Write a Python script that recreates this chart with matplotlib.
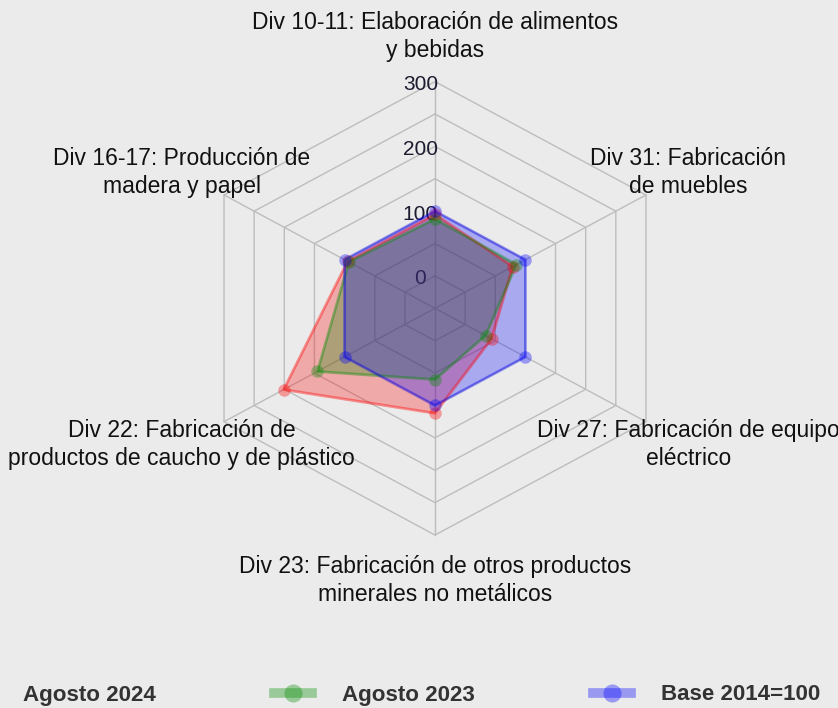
import numpy as np
import matplotlib.pyplot as plt
from matplotlib.lines import Line2D

plt.rcParams['font.family'] = ['Liberation Sans', 'DejaVu Sans']

# radar data, counter-clockwise from the top axis
categories = [
    "Div 10-11: Elaboración de alimentos\ny bebidas",
    "Div 16-17: Producción de\nmadera y papel",
    "Div 22: Fabricación de\nproductos de caucho y de plástico",
    "Div 23: Fabricación de otros productos\nminerales no metálicos",
    "Div 27: Fabricación de equipo\neléctrico",
    "Div 31: Fabricación\nde muebles",
]
agosto_2024 = [95, 95, 201, 112, 44, 79]
agosto_2023 = [88, 93, 145, 60, 34, 85]
base_2014 = [100, 100, 100, 100, 100, 100]
series_names = ["Agosto 2024", "Agosto 2023", "Base 2014=100"]
axis_ticks = [0, 100, 200, 300]

V_MIN, V_MAX, SEG = 0, 300, 6
BG = '#ebebeb'


def scale(v):
    # same mapping as fmsb with centerzero=FALSE (one empty segment in the middle)
    return (1 + (np.asarray(v, float) - V_MIN) / (V_MAX - V_MIN) * SEG) / (SEG + 1)


n = len(categories)
theta = np.deg2rad(90 + 360 * np.arange(n) / n)
cx, cy = np.cos(theta), np.sin(theta)

fig = plt.figure(figsize=(8.38, 7.08), dpi=100, facecolor=BG)
ax = fig.add_axes([0, 0, 1, 1])
ax.set_facecolor(BG)
ax.set_xlim(-1.7857, 1.6544)
ax.set_ylim(-1.763, 1.360)
ax.axis('off')

# grid rings and spokes
for i in range(1, SEG + 2):
    r = i / (SEG + 1)
    ax.plot(np.append(cx, cx[0]) * r, np.append(cy, cy[0]) * r, color='#bdbdbd', lw=1, zorder=1)
for x, y in zip(cx, cy):
    ax.plot([0, x], [0, y], color='#bdbdbd', lw=1, zorder=1)

# value labels on the top spoke
for t in axis_ticks:
    ax.text(-0.06, scale(t) - 0.013, str(t), ha='center', va='center',
            fontsize=15, color='#1c1c30', zorder=2)

# category labels
for lab, x, y in zip(categories, cx, cy):
    ax.text(x * 1.2, y * 1.2, lab, ha='center', va='center', fontsize=16.5,
            color='#111111', linespacing=1.3)

colors = [(1, 0, 0), (0.0, 0.55, 0.0), (0, 0, 1)]
for vals, col in zip([agosto_2024, agosto_2023, base_2014], colors):
    r = scale(vals)
    px, py = cx * r, cy * r
    ax.fill(px, py, color=col, alpha=0.28, lw=0, zorder=3)
    ax.plot(np.append(px, px[0]), np.append(py, py[0]), color=col, alpha=0.4, lw=2, zorder=4)
    ax.plot(px, py, 'o', color=col, alpha=0.35, ms=9, mew=0, zorder=5)

handles = [Line2D([0], [0], color=c, alpha=0.35, lw=7, marker='o', ms=13, mew=0)
           for c in colors]
fig.legend(handles, series_names, loc='center left', bbox_to_anchor=(-45 / 838, 13 / 708),
           ncol=3, frameon=False, borderpad=0, borderaxespad=0, handlelength=1.7,
           handletextpad=1.33, columnspacing=5.3,
           prop={'size': 16.1, 'weight': 'bold'}, labelcolor='#333333')

fig.savefig('out.png', dpi=100, facecolor=BG)
